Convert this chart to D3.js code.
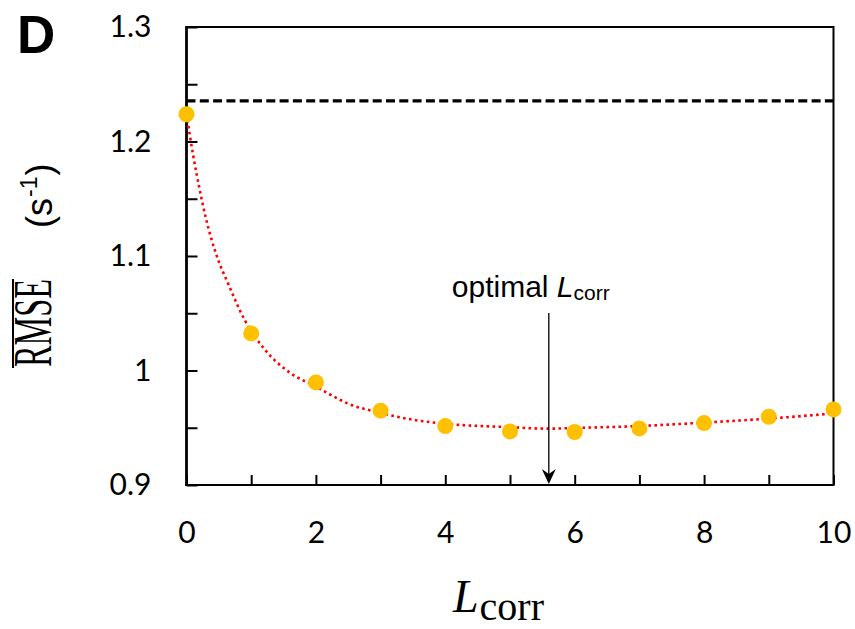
<!DOCTYPE html>
<html><head><meta charset="utf-8">
<script src="https://cdn.jsdelivr.net/npm/d3@7"></script>
<style>body{margin:0;background:#fff}</style>
</head><body>
<svg id="c" width="855" height="629" xmlns="http://www.w3.org/2000/svg"></svg>
<script>
// ---- data ----
const lcorr = [0, 1, 2, 3, 4, 5, 6, 7, 8, 9, 10];
const rmse = [1.2238, 1.0324, 0.9896, 0.9649, 0.9515, 0.9468, 0.9463, 0.9494, 0.9541, 0.9596, 0.9660];
const fitX = [0, 0.1, 0.2, 0.3, 0.45, 0.65, 0.9, 1.2, 1.6, 2.0, 2.5, 3.0, 3.5, 4.0, 5.0, 5.6, 6.0, 7.0, 8.0, 9.0, 10.0];
const fitY = [1.224, 1.189, 1.159, 1.133, 1.103, 1.075, 1.044, 1.019, 0.998, 0.986, 0.971, 0.963, 0.957, 0.9535, 0.9505, 0.9492, 0.9498, 0.9515, 0.9545, 0.958, 0.9625];
const referenceLevel = 1.2354;
const optimalL = 5.6;
const xTicks = [0, 1, 2, 3, 4, 5, 6, 7, 8, 9, 10];
const xTickLabels = ["0", "", "2", "", "4", "", "6", "", "8", "", "10"];
const yTicks = [0.9, 0.95, 1.0, 1.05, 1.1, 1.15, 1.2, 1.25, 1.3];
const yTickLabels = ["0.9", "", "1", "", "1.1", "", "1.2", "", "1.3"];

const svg = d3.select("#c");
const L = 186.5, R = 833.5, T = 27, B = 485;
const x = d3.scaleLinear().domain([0, 10]).range([L, R]);
const y = d3.scaleLinear().domain([0.9, 1.3]).range([B, T]);

// panel letter
svg.append("text").attr("x", 17).attr("y", 53)
  .attr("font-family", "Liberation Sans, Arial, sans-serif").attr("font-weight", "bold")
  .attr("font-size", 53).text("D");

// axes (ticks inward)
const tickFont = "Lato, Calibri, sans-serif";
const xAxis = d3.axisBottom(x).tickValues(xTicks).tickSizeInner(-10).tickSizeOuter(0)
  .tickPadding(37).tickFormat((d, i) => xTickLabels[i]);
const gx = svg.append("g").attr("transform", `translate(0,${B})`).call(xAxis);
gx.select(".domain").remove();
gx.selectAll(".tick line").attr("stroke", "#000").attr("stroke-width", 2);
gx.selectAll(".tick text").attr("font-family", tickFont).attr("font-size", 30).attr("fill", "#000");

const yAxis = d3.axisLeft(y).tickValues(yTicks).tickSizeInner(-11).tickSizeOuter(0)
  .tickPadding(35).tickFormat((d, i) => yTickLabels[i]);
const gy = svg.append("g").attr("transform", `translate(${L},0)`).call(yAxis);
gy.select(".domain").remove();
gy.selectAll(".tick line").attr("stroke", "#000").attr("stroke-width", 2);
gy.selectAll(".tick text").attr("font-family", tickFont).attr("font-size", 30).attr("fill", "#000");

// frame
svg.append("path").attr("d", `M${L},${T}H${R}V${B}`).attr("fill", "none")
  .attr("stroke", "#000").attr("stroke-width", 2);
svg.append("line").attr("x1", L - 1).attr("x2", R + 1).attr("y1", B).attr("y2", B)
  .attr("stroke", "#000").attr("stroke-width", 2.2);
svg.append("line").attr("x1", L).attr("x2", L).attr("y1", T - 1).attr("y2", B + 1)
  .attr("stroke", "#000").attr("stroke-width", 2.8);

// reference dashed line
svg.append("line").attr("x1", x(0)).attr("x2", x(10))
  .attr("y1", y(referenceLevel)).attr("y2", y(referenceLevel))
  .attr("stroke", "#000").attr("stroke-width", 3.2).attr("stroke-dasharray", "9 4.3");

// fitted curve (red dotted)
const line = d3.line().x((d, i) => x(fitX[i])).y((d, i) => y(fitY[i])).curve(d3.curveMonotoneX);
svg.append("path").datum(fitX).attr("d", line).attr("fill", "none")
  .attr("stroke", "#ff0000").attr("stroke-width", 2.6).attr("stroke-dasharray", "2.6 3.4");

// points
svg.append("g").selectAll("circle").data(lcorr).join("circle")
  .attr("cx", d => x(d)).attr("cy", (d, i) => y(rmse[i])).attr("r", 8).attr("fill", "#ffc000");

// arrow annotation
const ax = x(optimalL);
svg.append("line").attr("x1", ax).attr("x2", ax).attr("y1", 313).attr("y2", 478)
  .attr("stroke", "#000").attr("stroke-width", 1.3);
svg.append("path").attr("d", `M${ax},${B - 1}L${ax - 7},${B - 16}L${ax},${B - 11}L${ax + 7},${B - 16}Z`)
  .attr("fill", "#000");
const ann = svg.append("text").attr("x", ax - 97).attr("y", 297)
  .attr("font-family", "Liberation Sans, Arial, sans-serif").attr("font-size", 30).attr("fill", "#000");
ann.append("tspan").text("optimal ");
ann.append("tspan").attr("font-style", "italic").text("L");
ann.append("tspan").attr("font-size", 21).attr("dy", 3).text("corr");

// x-axis title
const xt = svg.append("text").attr("x", 453).attr("y", 612)
  .attr("font-family", "Liberation Serif, Times New Roman, serif").attr("fill", "#000");
xt.append("tspan").attr("font-style", "italic").attr("font-size", 46).text("L");
xt.append("tspan").attr("font-size", 40).attr("dx", 1).attr("dy", 8).text("corr");

// y-axis title
svg.append("text").attr("transform", "translate(51,367) rotate(-90)")
  .attr("font-family", "Liberation Serif, Times New Roman, serif").attr("font-size", 54)
  .attr("textLength", 88).attr("lengthAdjust", "spacingAndGlyphs").attr("fill", "#000").text("RMSE");
svg.append("line").attr("x1", 13).attr("x2", 13).attr("y1", 279).attr("y2", 368)
  .attr("stroke", "#000").attr("stroke-width", 2);
const yu = svg.append("text").attr("transform", "translate(52,228) rotate(-90)")
  .attr("font-family", "Liberation Sans, Arial, sans-serif").attr("font-size", 36).attr("fill", "#000");
yu.append("tspan").text("(s");
yu.append("tspan").attr("font-size", 23).attr("dy", -15).attr("dx", 1).text("-1");
yu.append("tspan").attr("dy", 15).attr("dx", 1).text(")");
</script>
</body></html>
